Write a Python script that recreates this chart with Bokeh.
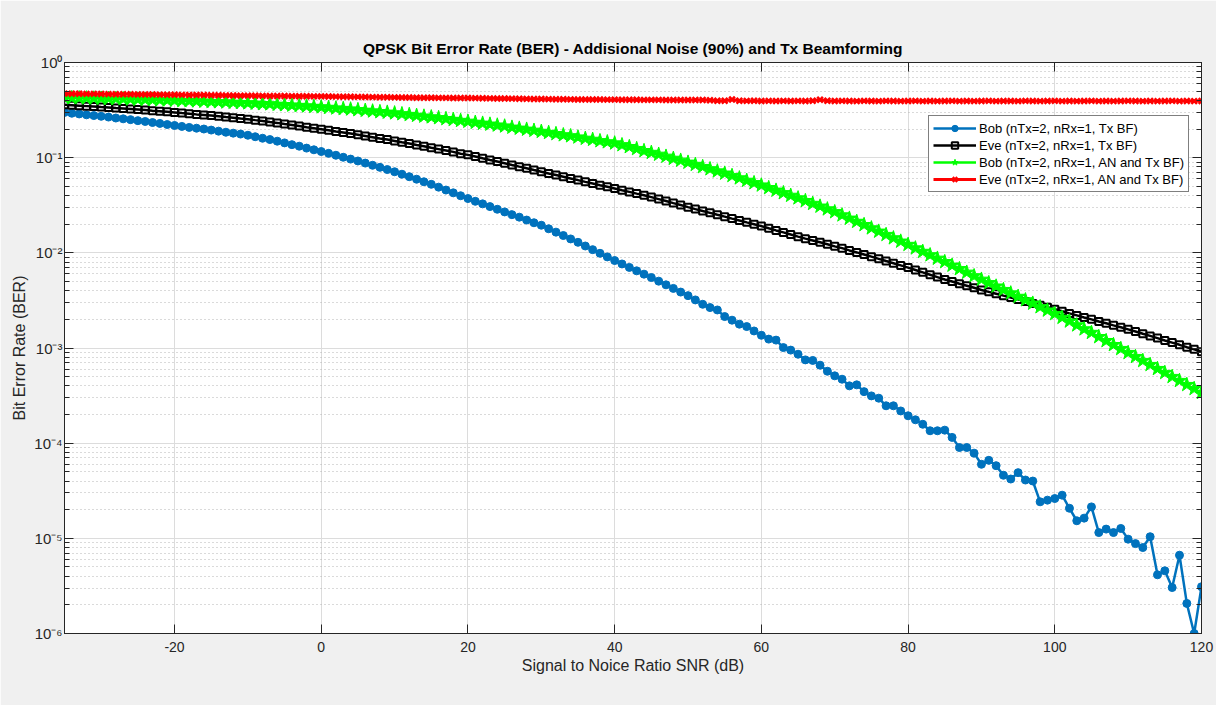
from bokeh.plotting import figure
from bokeh.models import (LogAxis, LinearAxis, FixedTicker, LogTicker, CustomJSTickFormatter,
                          Legend, LegendItem, Range1d)
from bokeh.embed import file_html
from bokeh.resources import INLINE

snr_db = list(range(-35, 121))

ber_bob_bf = [
    0.299, 0.293, 0.288, 0.282, 0.277, 0.272, 0.267, 0.261, 0.256, 0.251,
    0.245, 0.240, 0.234, 0.229, 0.223, 0.218, 0.213, 0.208, 0.204, 0.200,
    0.195, 0.190, 0.185, 0.181, 0.177, 0.172, 0.166, 0.160, 0.155, 0.149,
    0.143, 0.137, 0.132, 0.126, 0.121, 0.116, 0.111, 0.106, 0.101, 0.0966,
    0.0923, 0.0877, 0.0832, 0.0791, 0.0750, 0.0711, 0.0670, 0.0631, 0.0594, 0.0558,
    0.0525, 0.0490, 0.0457, 0.0427, 0.0398, 0.0372, 0.0348, 0.0327, 0.0306, 0.0287,
    0.0269, 0.0252, 0.0237, 0.0221, 0.0207, 0.0195, 0.0179, 0.0165, 0.0152, 0.0140,
    0.0129, 0.0118, 0.0108, 0.00989, 0.00906, 0.00830, 0.00764, 0.00703, 0.00647, 0.00597,
    0.00550, 0.00504, 0.00461, 0.00423, 0.00387, 0.00355, 0.00320, 0.00288, 0.00266, 0.00251,
    0.00214, 0.00196, 0.00178, 0.00168, 0.00151, 0.00136, 0.00124, 0.00121, 0.00101, 0.00095,
    0.00086, 0.00075, 0.00074, 0.00066, 0.00057, 0.00051, 0.00047, 0.00040, 0.00041, 0.000348,
    0.000314, 0.000297, 0.000247, 0.000247, 0.000218, 0.000194, 0.000176, 0.000158, 0.000135, 0.000135,
    0.000137, 0.000115, 9.0e-5, 9.0e-5, 7.85e-5, 6.0e-5, 6.6e-5, 5.8e-5, 4.6e-5, 4.2e-5,
    4.9e-5, 4.1e-5, 4.0e-5, 2.42e-5, 2.52e-5, 2.62e-5, 2.84e-5, 2.07e-5, 1.53e-5, 1.63e-5,
    2.14e-5, 1.15e-5, 1.25e-5, 1.15e-5, 1.27e-5, 9.8e-6, 8.8e-6, 8.0e-6, 1.04e-5, 4.14e-6,
    4.56e-6, 3.04e-6, 6.65e-6, 2.07e-6, 1.0e-6, 3.1e-6,
]

ber_eve_bf = [
    0.360, 0.356, 0.352, 0.348, 0.344, 0.340, 0.337, 0.332, 0.328, 0.324,
    0.320, 0.316, 0.311, 0.307, 0.303, 0.299, 0.294, 0.290, 0.285, 0.281,
    0.277, 0.272, 0.267, 0.263, 0.258, 0.254, 0.248, 0.243, 0.237, 0.232,
    0.226, 0.221, 0.215, 0.209, 0.204, 0.199, 0.194, 0.188, 0.184, 0.179,
    0.174, 0.169, 0.164, 0.159, 0.155, 0.150, 0.145, 0.141, 0.136, 0.132,
    0.127, 0.123, 0.119, 0.115, 0.110, 0.107, 0.103, 0.0986, 0.0946, 0.0910,
    0.0875, 0.0839, 0.0805, 0.0773, 0.0741, 0.0711, 0.0682, 0.0656, 0.0630, 0.0605,
    0.0581, 0.0557, 0.0536, 0.0514, 0.0494, 0.0474, 0.0455, 0.0437, 0.0419, 0.0402,
    0.0385, 0.0367, 0.0350, 0.0333, 0.0318, 0.0302, 0.0288, 0.0275, 0.0263, 0.0251,
    0.0240, 0.0229, 0.0219, 0.0209, 0.0200, 0.0191, 0.0181, 0.0172, 0.0164, 0.0156,
    0.0148, 0.0141, 0.0135, 0.0129, 0.0123, 0.0117, 0.0112, 0.0106, 0.0101, 0.00960,
    0.00912, 0.00865, 0.00820, 0.00778, 0.00738, 0.00700, 0.00661, 0.00624, 0.00589, 0.00556,
    0.00525, 0.00499, 0.00474, 0.00451, 0.00429, 0.00407, 0.00389, 0.00372, 0.00355, 0.00339,
    0.00324, 0.00308, 0.00294, 0.00281, 0.00268, 0.00255, 0.00243, 0.00231, 0.00220, 0.00209,
    0.00200, 0.00190, 0.00182, 0.00173, 0.00165, 0.00157, 0.00149, 0.00141, 0.00134, 0.00127,
    0.00120, 0.00114, 0.00108, 0.00102, 0.000968, 0.000916,
]

ber_bob_an = [
    0.427, 0.425, 0.424, 0.422, 0.421, 0.419, 0.417, 0.416, 0.414, 0.412,
    0.410, 0.408, 0.406, 0.404, 0.402, 0.400, 0.397, 0.395, 0.393, 0.391,
    0.388, 0.385, 0.383, 0.380, 0.378, 0.375, 0.372, 0.368, 0.366, 0.362,
    0.359, 0.355, 0.352, 0.348, 0.344, 0.340, 0.336, 0.331, 0.327, 0.323,
    0.318, 0.313, 0.308, 0.303, 0.299, 0.294, 0.288, 0.283, 0.277, 0.272,
    0.267, 0.262, 0.256, 0.251, 0.245, 0.240, 0.234, 0.229, 0.224, 0.219,
    0.214, 0.208, 0.203, 0.198, 0.193, 0.188, 0.183, 0.178, 0.173, 0.169,
    0.164, 0.159, 0.155, 0.150, 0.146, 0.142, 0.136, 0.130, 0.124, 0.118,
    0.113, 0.108, 0.103, 0.0979, 0.0935, 0.0891, 0.0845, 0.0802, 0.0760, 0.0721,
    0.0684, 0.0646, 0.0610, 0.0575, 0.0543, 0.0513, 0.0482, 0.0453, 0.0426, 0.0400,
    0.0376, 0.0352, 0.0329, 0.0308, 0.0288, 0.0269, 0.0249, 0.0230, 0.0213, 0.0197,
    0.0182, 0.0168, 0.0155, 0.0143, 0.0132, 0.0122, 0.0112, 0.0103, 0.00948, 0.00873,
    0.00804, 0.00738, 0.00678, 0.00622, 0.00571, 0.00525, 0.00483, 0.00445, 0.00409, 0.00377,
    0.00347, 0.00319, 0.00294, 0.00270, 0.00249, 0.00229, 0.00209, 0.00191, 0.00174, 0.00158,
    0.00145, 0.00131, 0.00119, 0.00108, 0.000982, 0.000891, 0.000809, 0.000735, 0.000667, 0.000605,
    0.000550, 0.000499, 0.000453, 0.000411, 0.000373, 0.000339,
]

ber_eve_an = [
    0.471, 0.470, 0.469, 0.468, 0.468, 0.466, 0.465, 0.464, 0.463, 0.463,
    0.462, 0.461, 0.461, 0.460, 0.459, 0.459, 0.457, 0.456, 0.455, 0.455,
    0.453, 0.452, 0.451, 0.450, 0.449, 0.449, 0.447, 0.446, 0.445, 0.445,
    0.444, 0.443, 0.442, 0.442, 0.441, 0.441, 0.440, 0.438, 0.437, 0.436,
    0.435, 0.434, 0.433, 0.432, 0.431, 0.430, 0.429, 0.428, 0.427, 0.426,
    0.426, 0.425, 0.425, 0.424, 0.424, 0.424, 0.422, 0.421, 0.420, 0.419,
    0.418, 0.417, 0.416, 0.415, 0.414, 0.413, 0.412, 0.411, 0.411, 0.410,
    0.409, 0.409, 0.408, 0.408, 0.407, 0.407, 0.406, 0.406, 0.406, 0.405,
    0.405, 0.405, 0.404, 0.404, 0.404, 0.404, 0.403, 0.403, 0.401, 0.397,
    0.396, 0.409, 0.397, 0.395, 0.396, 0.394, 0.395, 0.394, 0.395, 0.394,
    0.395, 0.394, 0.396, 0.406, 0.397, 0.394, 0.395, 0.394, 0.393, 0.395,
    0.394, 0.393, 0.395, 0.394, 0.393, 0.394, 0.395, 0.393, 0.394, 0.393,
    0.394, 0.395, 0.393, 0.394, 0.393, 0.394, 0.395, 0.393, 0.394, 0.394,
    0.393, 0.395, 0.394, 0.393, 0.394, 0.395, 0.393, 0.394, 0.393, 0.394,
    0.395, 0.393, 0.394, 0.393, 0.394, 0.395, 0.394, 0.393, 0.394, 0.393,
    0.394, 0.395, 0.393, 0.394, 0.393, 0.394,
]

x_ticks = [-20, 0, 20, 40, 60, 80, 100, 120]
series_labels = [
    "Bob (nTx=2, nRx=1, Tx BF)",
    "Eve (nTx=2, nRx=1, Tx BF)",
    "Bob (nTx=2, nRx=1, AN and Tx BF)",
    "Eve (nTx=2, nRx=1, AN and Tx BF)",
]
title_text = "QPSK Bit Error Rate (BER) - Addisional Noise (90%) and Tx Beamforming"
x_label = "Signal to Noice Ratio SNR (dB)"
y_label = "Bit Error Rate (BER)"

FONT = "Liberation Sans"
AX = "#262626"

p = figure(frame_width=1137, frame_height=571,
           x_range=Range1d(-35, 120), y_range=Range1d(1e-6, 1),
           y_axis_type="log", output_backend="svg", toolbar_location=None,
           min_border_left=64, min_border_right=15, min_border_top=62, min_border_bottom=72,
           title=title_text)
p.border_fill_color = "#F0F0F0"
p.background_fill_color = "white"
p.outline_line_color = AX
p.outline_line_width = 1

p.title.align = "center"
p.title.text_font = FONT
p.title.text_font_size = "15.5px"
p.title.text_font_style = "bold"
p.title.text_color = "black"
p.title.standoff = 11

sup_js = """
const sup = {"-":"\u207b","0":"\u2070","1":"\u00b9","2":"\u00b2","3":"\u00b3","4":"\u2074",
             "5":"\u2075","6":"\u2076","7":"\u2077","8":"\u2078","9":"\u2079"};
const e = Math.round(Math.log10(tick));
return "10" + String(e).split("").map(c => sup[c]).join("");
"""

xa = p.xaxis[0]
xa.ticker = FixedTicker(ticks=x_ticks)
xa.formatter = CustomJSTickFormatter(code="return String(tick);")
ya = p.yaxis[0]
ya.ticker = LogTicker(num_minor_ticks=10)
ya.formatter = CustomJSTickFormatter(code=sup_js)

for ax in (xa, ya):
    ax.axis_line_color = AX
    ax.major_tick_line_color = AX
    ax.minor_tick_line_color = AX
    ax.major_tick_in = 9
    ax.major_tick_out = 0
    ax.minor_tick_in = 5
    ax.minor_tick_out = 0
    ax.major_label_text_font = FONT
    ax.major_label_text_font_size = "14px"
    ax.major_label_text_color = AX
    ax.axis_label_text_font = FONT
    ax.axis_label_text_font_size = "16px"
    ax.axis_label_text_font_style = "normal"
    ax.axis_label_text_color = AX
xa.minor_tick_in = 0
xa.axis_label = x_label
ya.axis_label = y_label
ya.major_label_text_font_size = "15px"
xa.major_label_standoff = 8
xa.axis_label_standoff = 2
ya.major_label_standoff = 2
ya.axis_label_standoff = 3

blank_js = "return '';"
top = LinearAxis(ticker=FixedTicker(ticks=x_ticks), formatter=CustomJSTickFormatter(code=blank_js),
                 major_tick_in=9, major_tick_out=0, minor_tick_in=0, minor_tick_out=0,
                 axis_line_color=AX, major_tick_line_color=AX, major_label_standoff=0)
right = LogAxis(ticker=LogTicker(num_minor_ticks=10), formatter=CustomJSTickFormatter(code=blank_js),
                major_tick_in=9, major_tick_out=0, minor_tick_in=5, minor_tick_out=0,
                axis_line_color=AX, major_tick_line_color=AX, minor_tick_line_color=AX,
                major_label_standoff=0)
p.add_layout(top, "above")
p.add_layout(right, "right")

p.xgrid.grid_line_color = "#dcdcdc"
p.xgrid.grid_line_width = 1
p.ygrid.grid_line_color = "#dcdcdc"
p.ygrid.grid_line_width = 1
p.ygrid.minor_grid_line_color = "#b4b4b4"
p.ygrid.minor_grid_line_dash = "1 3"
p.ygrid.minor_grid_line_width = 1

items = []
l1 = p.line(snr_db, ber_bob_bf, line_color="#0072BD", line_width=2.5)
s1 = p.scatter(snr_db, ber_bob_bf, marker="circle", size=8, fill_color="#0072BD",
               line_color="#0072BD", line_width=1)
items.append(LegendItem(label=series_labels[0], renderers=[l1, s1]))

l2 = p.line(snr_db, ber_eve_bf, line_color="black", line_width=2.5)
s2 = p.scatter(snr_db, ber_eve_bf, marker="square", size=7, fill_alpha=0,
               line_color="black", line_width=2)
items.append(LegendItem(label=series_labels[1], renderers=[l2, s2]))

l3 = p.line(snr_db, ber_bob_an, line_color="#00FF00", line_width=2.5)
s3 = p.scatter(snr_db, ber_bob_an, marker="star", size=15, fill_color="#00FF00",
               line_color="#00FF00", line_width=1)
items.append(LegendItem(label=series_labels[2], renderers=[l3, s3]))

l4 = p.line(snr_db, ber_eve_an, line_color="#FF0000", line_width=3)
s4 = p.scatter(snr_db, ber_eve_an, marker="x", size=8, line_color="#FF0000", line_width=2.5)
items.append(LegendItem(label=series_labels[3], renderers=[l4, s4]))

legend = Legend(items=items, location=(864, 441))
legend.glyph_width = 43
legend.glyph_height = 16
legend.label_height = 16
legend.spacing = 1
legend.padding = 4
legend.margin = 0
legend.label_standoff = 3
legend.label_text_font = FONT
legend.label_text_font_size = "13px"
legend.label_text_color = "black"
legend.border_line_color = "black"
legend.border_line_width = 1
legend.background_fill_color = "white"
legend.background_fill_alpha = 1
p.add_layout(legend)

open("out.html", "w").write(file_html(p, INLINE))
